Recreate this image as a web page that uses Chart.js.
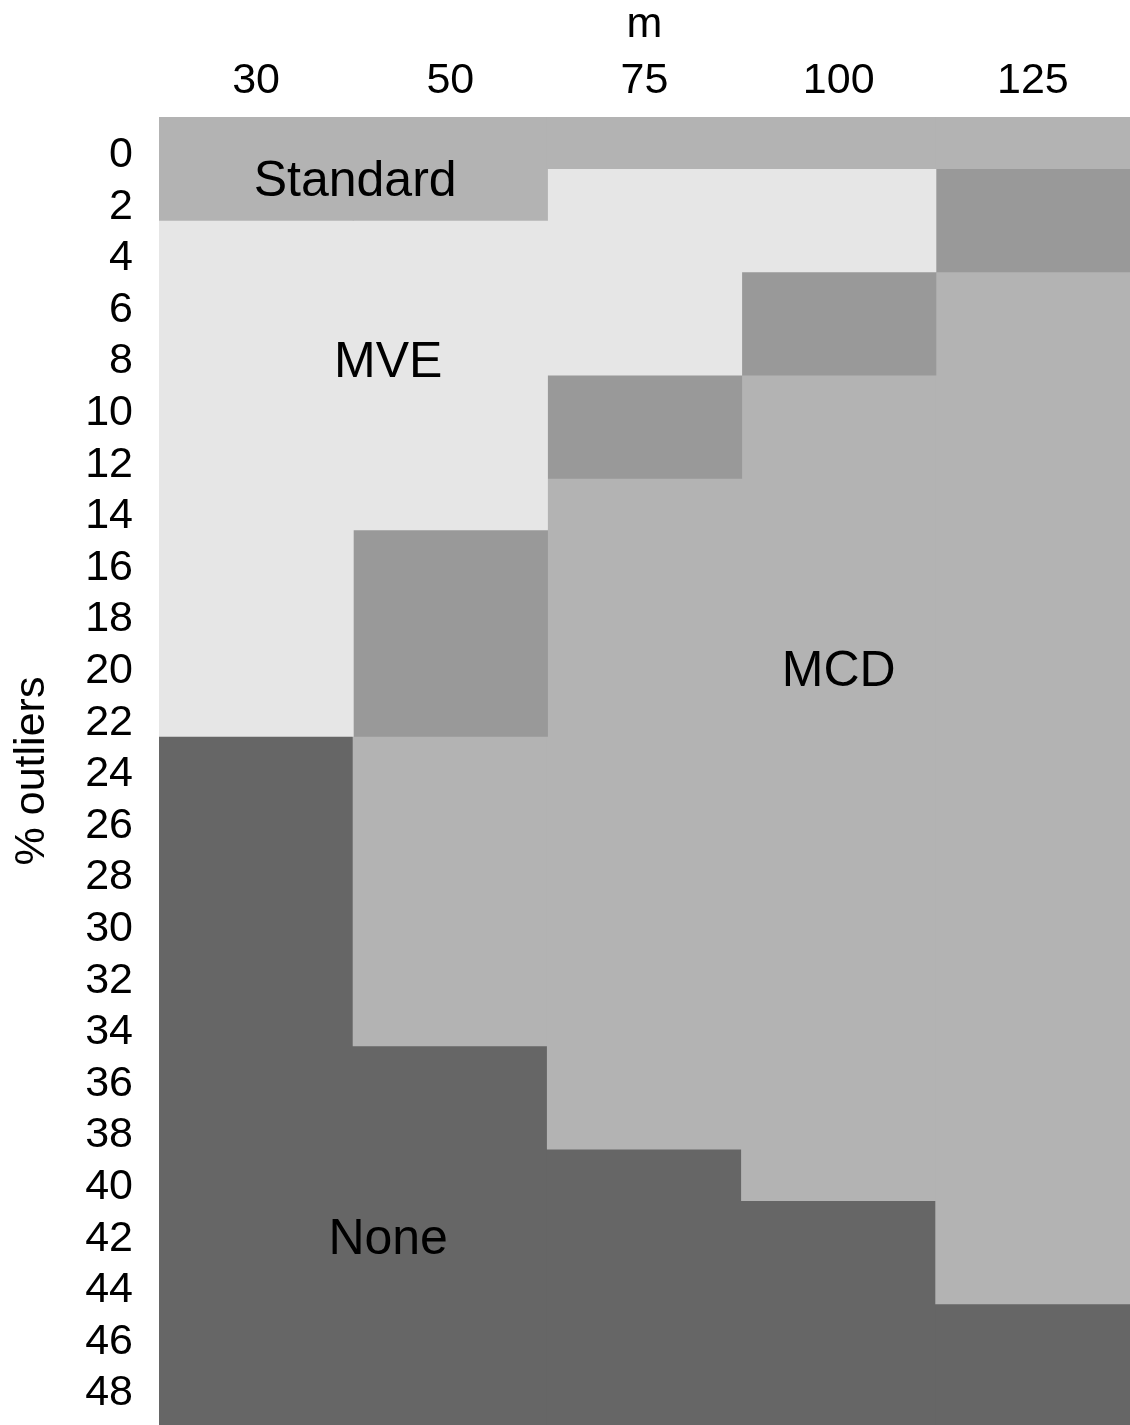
<!DOCTYPE html>
<html>
<head>
<meta charset="utf-8">
<script src="https://cdn.jsdelivr.net/npm/chart.js@4/dist/chart.umd.min.js"></script>
<style>
  body { margin: 0; background: #fff; }
  #wrap { width: 1130px; height: 1425px; }
</style>
</head>
<body>
<div id="wrap"><canvas id="regionChart" width="1130" height="1425"></canvas></div>
<script>
const mLabels = ['30', '50', '75', '100', '125'];
const outlierTicks = [0, 2, 4, 6, 8, 10, 12, 14, 16, 18, 20, 22, 24, 26, 28, 30, 32, 34, 36, 38, 40, 42, 44, 46, 48];

// first and last % outliers row of each region, one entry per m column (null = no cells)
const standardRows = [[0, 2], [0, 2], [0, 0], [0, 0], [0, 0]];
const mveRows = [[4, 22], [4, 14], [2, 8], [2, 4], null];
const tieRows = [null, [16, 22], [10, 12], [6, 8], [2, 4]];
const mcdRows = [null, [24, 34], [14, 38], [10, 40], [6, 44]];
const noneRows = [[24, 48], [36, 48], [40, 48], [42, 48], [46, 48]];

// text written inside the regions (m position as column index, % outliers)
const regionNames = ['Standard', 'MVE', 'MCD', 'None'];
const regionNameM = [0.51, 0.68, 3, 0.68];
const regionNamePct = [1, 8, 20, 42];

const ROW_SHIFT = -0.4;
const Y_MIN = outlierTicks[0] - 1 + ROW_SHIFT;
const Y_MAX = 49.3;
const LAST_ROW = outlierTicks[outlierTicks.length - 1];

function toBars(rows) {
    return rows.map(r => r === null ? null :
        [r[0] - 1 + ROW_SHIFT, r[1] === LAST_ROW ? Y_MAX : r[1] + 1 + ROW_SHIFT]);
}

function region(label, rows, color) {
    return {
        label: label,
        data: toBars(rows),
        backgroundColor: color,
        borderWidth: 0,
        grouped: false,
        barPercentage: 1,
        categoryPercentage: 1,
        inflateAmount: 0.5
    };
}

const regionText = {
    id: 'regionText',
    afterDatasetsDraw(chart) {
        const { ctx, scales: { x, y } } = chart;
        ctx.save();
        ctx.font = '50px "Liberation Sans", Arial, sans-serif';
        ctx.fillStyle = '#000';
        ctx.textAlign = 'center';
        ctx.textBaseline = 'alphabetic';
        regionNames.forEach((t, i) => {
            ctx.fillText(t, x.getPixelForValue(regionNameM[i]), y.getPixelForValue(regionNamePct[i]) + 17);
        });
        ctx.restore();
    }
};

Chart.defaults.font.family = '"Liberation Sans", Arial, sans-serif';
Chart.defaults.color = '#000';

const ctx = document.getElementById('regionChart').getContext('2d');
new Chart(ctx, {
    type: 'bar',
    data: {
        labels: mLabels,
        datasets: [
            region('Standard', standardRows, '#b3b3b3'),
            region('MVE', mveRows, '#e6e6e6'),
            region('Tie', tieRows, '#999999'),
            region('MCD', mcdRows, '#b3b3b3'),
            region('None', noneRows, '#666666')
        ]
    },
    options: {
        responsive: false,
        animation: false,
        layout: { padding: 0 },
        plugins: {
            legend: { display: false },
            tooltip: { enabled: false }
        },
        scales: {
            x: {
                position: 'top',
                grid: { display: false, drawTicks: false },
                border: { display: false },
                ticks: { font: { size: 43, lineHeight: 1 }, padding: 14, maxRotation: 0 },
                title: { display: true, text: 'm', font: { size: 43, lineHeight: 1 }, padding: { top: 4, bottom: 0 } },
                afterFit: scale => {
                    scale.height = 117;
                    scale.paddingLeft = 0;
                    scale.paddingRight = 0;
                }
            },
            y: {
                type: 'linear',
                reverse: true,
                min: Y_MIN,
                max: Y_MAX,
                grid: { display: false, drawTicks: false },
                border: { display: false },
                afterBuildTicks: scale => { scale.ticks = outlierTicks.map(v => ({ value: v })); },
                ticks: { font: { size: 43, lineHeight: 1 }, padding: 26, autoSkip: false, labelOffset: 2 },
                title: { display: true, text: '% outliers', font: { size: 43, lineHeight: 1 }, padding: { top: 11, bottom: 0 } },
                afterFit: scale => {
                    scale.width = 159;
                    scale.paddingTop = 0;
                    scale.paddingBottom = 0;
                }
            }
        }
    },
    plugins: [regionText]
});
</script>
</body>
</html>
